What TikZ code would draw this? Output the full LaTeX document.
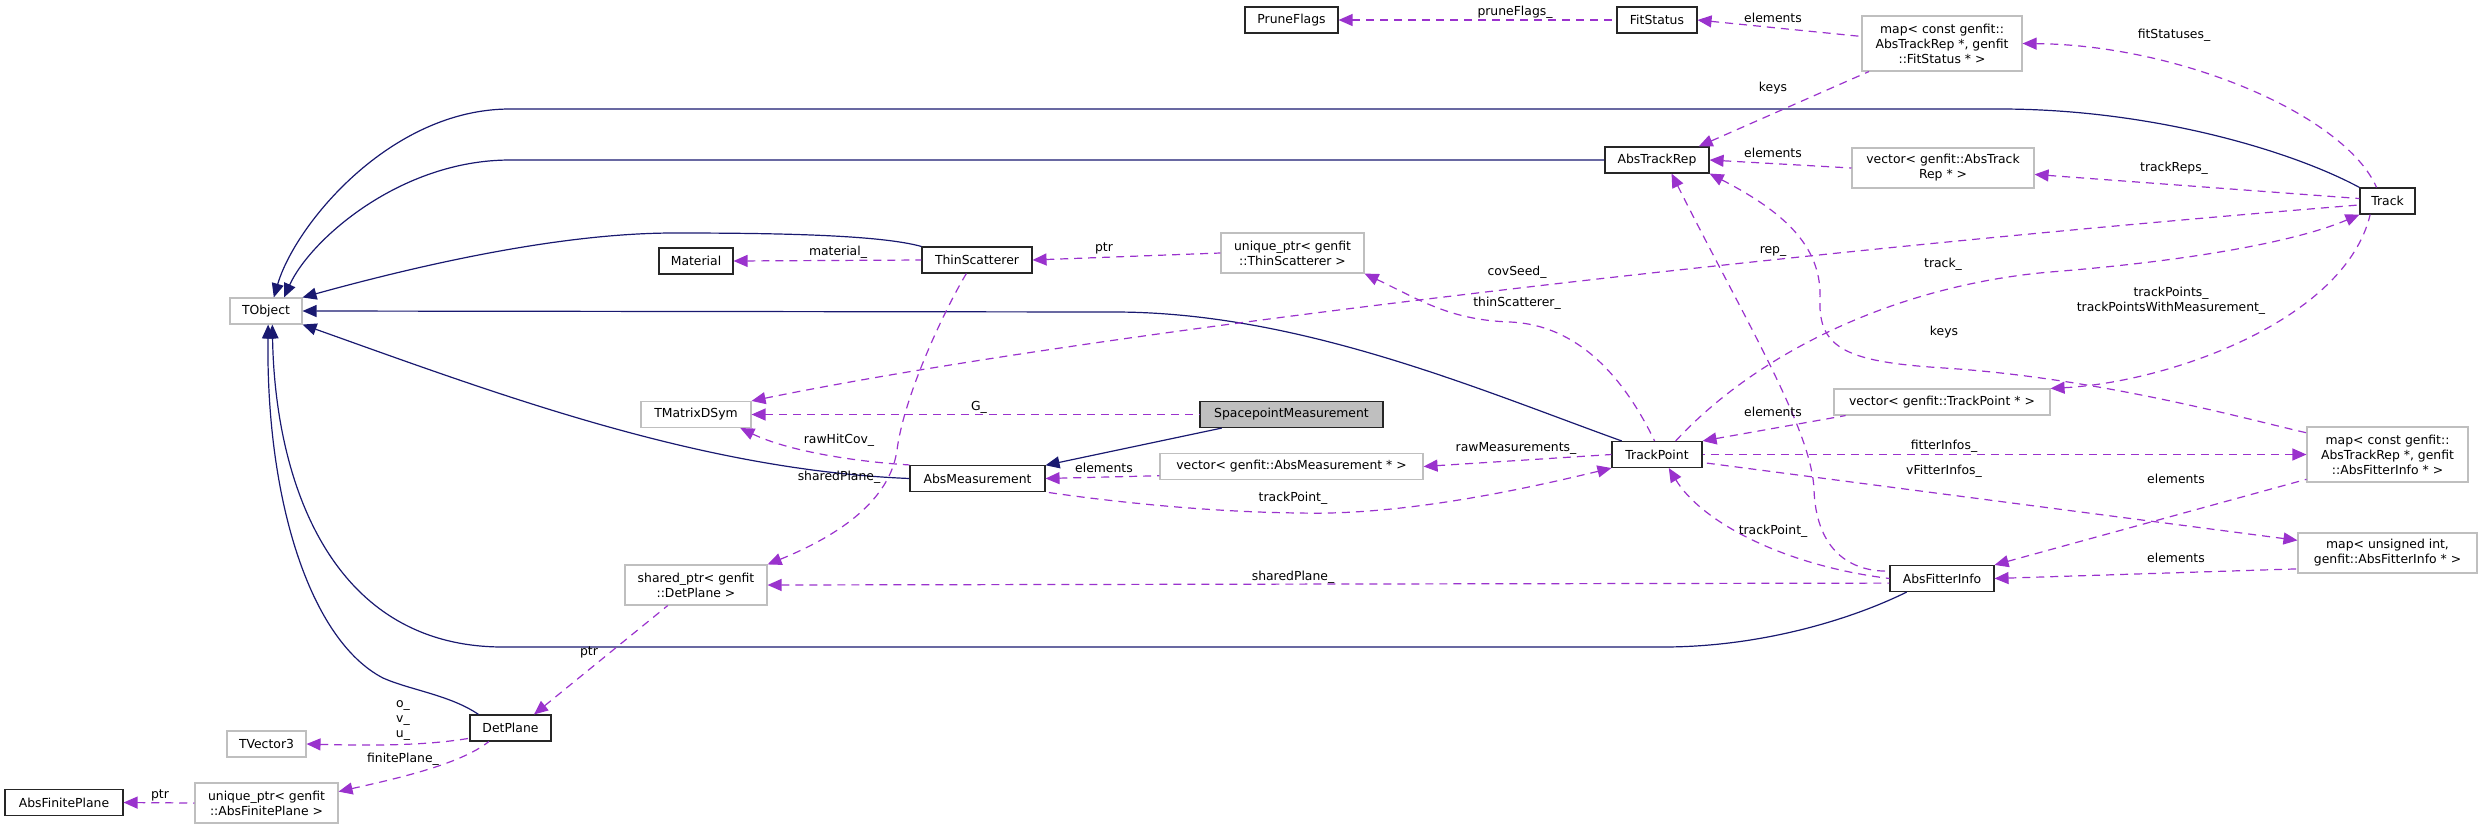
\documentclass[tikz,border=0pt]{standalone}
\usepackage{fontspec}
\setmainfont{DejaVu Sans}
\usetikzlibrary{arrows.meta, positioning, calc}

\definecolor{inhblue}{HTML}{191970}
\definecolor{usepurple}{HTML}{9A32CD}
\definecolor{extgray}{HTML}{BFBFBF}
\newcommand{\doxfont}{\fontsize{12.4}{15}\selectfont}

\tikzset{
  cls/.style={draw=black!85, line width=1.1pt, fill=white, font=\doxfont, minimum height=26pt, inner sep=2pt, align=center},
  ext/.style={cls, draw=extgray},
  inherit/.style={draw=inhblue, line width=1.2pt, {Triangle[length=14pt, width=12pt]}-},
  member/.style={draw=usepurple, line width=1.2pt, dash pattern=on 8pt off 6pt, {Triangle[length=14pt, width=12pt]}-},
  lbl/.style={font=\doxfont, inner sep=0pt, align=center},
}

\begin{document}
\begin{tikzpicture}[x=1pt, y=-1pt]
    \useasboundingbox (0,0) rectangle (2483,828);

    % classes
    \node[cls, minimum width=93pt] (PruneFlags) at (1291.5,20) {PruneFlags};
    \node[cls, minimum width=80pt] (FitStatus) at (1657,20) {FitStatus};
    \node[ext, minimum width=160pt, minimum height=55pt] (mapFS) at (1942,43.5) {map< const genfit::\\AbsTrackRep *, genfit\\::FitStatus * >};
    \node[cls, minimum width=104pt] (AbsTrackRep) at (1657,160) {AbsTrackRep};
    \node[ext, minimum width=182pt, minimum height=40pt] (vecATR) at (1943,168) {vector< genfit::AbsTrack\\Rep * >};
    \node[cls, minimum width=55pt] (Track) at (2387.5,201) {Track};
    \node[cls, minimum width=74pt] (Material) at (696,261) {Material};
    \node[cls, minimum width=110pt] (ThinScatterer) at (977,260) {ThinScatterer};
    \node[ext, minimum width=143pt, minimum height=40pt] (uptrTS) at (1292.5,253) {unique\_ptr< genfit\\::ThinScatterer >};
    \node[ext, minimum width=72pt] (TObject) at (266,311) {TObject};
    \node[ext, minimum width=110pt] (TMatrixDSym) at (696,414.5) {TMatrixDSym};
    \node[cls, fill=extgray, minimum width=183pt] (SpacepointMeasurement) at (1291.5,414.5) {SpacepointMeasurement};
    \node[ext, minimum width=216pt] (vecTP) at (1942,402) {vector< genfit::TrackPoint * >};
    \node[cls, minimum width=90pt] (TrackPoint) at (1657,454.5) {TrackPoint};
    \node[ext, minimum width=263pt] (vecAM) at (1291.5,466.5) {vector< genfit::AbsMeasurement * >};
    \node[cls, minimum width=135pt] (AbsMeasurement) at (977.5,478.5) {AbsMeasurement};
    \node[ext, minimum width=161pt, minimum height=55pt] (mapAFI) at (2387.5,454.5) {map< const genfit::\\AbsTrackRep *, genfit\\::AbsFitterInfo * >};
    \node[ext, minimum width=179pt, minimum height=40pt] (mapUI) at (2387.5,553) {map< unsigned int,\\ genfit::AbsFitterInfo * >};
    \node[cls, minimum width=104pt] (AbsFitterInfo) at (1942,578.5) {AbsFitterInfo};
    \node[ext, minimum width=142pt, minimum height=40pt] (sptrDP) at (696,585) {shared\_ptr< genfit\\::DetPlane >};
    \node[cls, minimum width=81pt] (DetPlane) at (510.5,728) {DetPlane};
    \node[ext, minimum width=79pt] (TVector3) at (266.5,744) {TVector3};
    \node[ext, minimum width=143pt, minimum height=40pt] (uptrAFP) at (266.5,803) {unique\_ptr< genfit\\::AbsFinitePlane >};
    \node[cls, minimum width=118pt] (AbsFinitePlane) at (64,802.5) {AbsFinitePlane};

    % inheritance
    \draw[inherit] (TObject.60) .. controls (295,225) and (390,109) .. (510,109) -- (2000,109) .. controls (2150,109) and (2290,150) .. (Track.north west);
    \draw[inherit] (TObject.37) .. controls (310,240) and (400,160) .. (510,160) -- (AbsTrackRep.west);
    \draw[inherit] (TObject.north east) .. controls (420,265) and (560,233) .. (674,233) .. controls (780,233) and (880,235) .. (ThinScatterer.north west);
    \draw[inherit] (TObject.east) -- (1114,312) .. controls (1300,312) and (1480,390) .. (TrackPoint.159);
    \draw[inherit] (TObject.south east) .. controls (500,395) and (700,470) .. (AbsMeasurement.west);
    \draw[inherit] (TObject.-65) .. controls (275,480) and (330,647) .. (503,647) -- (1663,647) .. controls (1760,647) and (1850,620) .. (AbsFitterInfo.-159);
    \draw[inherit] (TObject.-81) .. controls (266,500) and (310,640) .. (383,678) .. controls (410,690) and (450,695) .. (DetPlane.157);
    \draw[inherit] (AbsMeasurement.11) -- (SpacepointMeasurement.-169);

    % members
    \draw[member] (PruneFlags.east) -- (FitStatus.west);
    \draw[member] (FitStatus.east) -- (mapFS.175);
    \draw[member] (AbsTrackRep.18) -- (mapFS.-159);
    \draw[member] (mapFS.east) .. controls (2180,45) and (2345,115) .. (Track.129);
    \draw[member] (AbsTrackRep.east) -- (vecATR.west);
    \draw[member] (vecATR.-4) -- (Track.175);
    \draw[member] (TMatrixDSym.north east) .. controls (1100,330) and (1800,250) .. (Track.-172);
    \draw[member] (AbsTrackRep.-43) .. controls (1745,320) and (1812,430) .. (1814,490) .. controls (1816,545) and (1845,572) .. (AbsFitterInfo.172);
    \draw[member] (AbsTrackRep.south east) .. controls (1790,215) and (1822,250) .. (1820,300) .. controls (1818,350) and (1850,362) .. (1944,368) .. controls (2100,378) and (2250,420) .. (mapAFI.165);
    \draw[member] (Track.south west) .. controls (2300,240) and (2200,260) .. (2050,272) .. controls (1900,285) and (1760,350) .. (TrackPoint.36);
    \draw[member] (uptrTS.south east) .. controls (1420,300) and (1450,320) .. (1510,322) .. controls (1580,325) and (1625,380) .. (TrackPoint.100);
    \draw[member] (vecTP.north east) .. controls (2170,382) and (2345,320) .. (Track.-142);
    \draw[member] (TrackPoint.north east) -- (vecTP.-172);
    \draw[member] (mapAFI.west) -- (TrackPoint.east);
    \draw[member] (mapUI.172) -- (TrackPoint.-10);
    \draw[member] (AbsFitterInfo.north east) -- (mapAFI.-163);
    \draw[member] (AbsFitterInfo.east) -- (mapUI.-170);
    \draw[member] (TrackPoint.-49) .. controls (1700,520) and (1780,565) .. (AbsFitterInfo.west);
    \draw[member] (sptrDP.east) -- (AbsFitterInfo.-175);
    \draw[member] (sptrDP.north east) .. controls (840,535) and (890,500) .. (897,450) .. controls (905,390) and (950,300) .. (ThinScatterer.-128);
    \draw[member] (Material.east) -- (ThinScatterer.west);
    \draw[member] (ThinScatterer.east) -- (uptrTS.west);
    \draw[member] (vecAM.east) -- (TrackPoint.west);
    \draw[member] (AbsMeasurement.east) -- (vecAM.-176);
    \draw[member] (TrackPoint.south west) .. controls (1480,500) and (1380,515) .. (1300,513) .. controls (1200,512) and (1100,500) .. (AbsMeasurement.south east);
    \draw[member] (TMatrixDSym.-17) .. controls (790,452) and (860,462) .. (AbsMeasurement.north west);
    \draw[member] (TMatrixDSym.east) -- (SpacepointMeasurement.west);
    \draw[member] (DetPlane.30) -- (sptrDP.-144);
    \draw[member] (TVector3.east) .. controls (380,746) and (430,745) .. (DetPlane.-166);
    \draw[member] (uptrAFP.9) .. controls (390,780) and (460,765) .. (DetPlane.-148);
    \draw[member] (AbsFinitePlane.east) -- (uptrAFP.west);

    % labels
    \node[lbl] (lPruneFlags) at (1515,12) {pruneFlags\_};
    \node[lbl] (lElemFS) at (1773,18) {elements};
    \node[lbl] (lFitStatuses) at (2174,35) {fitStatuses\_};
    \node[lbl] (lKeysFS) at (1773,88) {keys};
    \node[lbl] (lElemATR) at (1773,153) {elements};
    \node[lbl] (lTrackReps) at (2174,168) {trackReps\_};
    \node[lbl] (lMaterial) at (838,252) {material\_};
    \node[lbl] (lPtrTS) at (1104,248) {ptr};
    \node[lbl] (lRep) at (1773,251) {rep\_};
    \node[lbl] (lTrack) at (1943,264) {track\_};
    \node[lbl] (lCovSeed) at (1517,272) {covSeed\_};
    \node[lbl] (lThinScatterer) at (1517,303) {thinScatterer\_};
    \node[lbl] (lTrackPoints) at (2171,301) {trackPoints\_\\trackPointsWithMeasurement\_};
    \node[lbl] (lKeysAFI) at (1944,332) {keys};
    \node[lbl] (lG) at (979,407) {G\_};
    \node[lbl] (lElemTP) at (1773,412) {elements};
    \node[lbl] (lRawHitCov) at (839,440) {rawHitCov\_};
    \node[lbl] (lFitterInfos) at (1944,446) {fitterInfos\_};
    \node[lbl] (lRawMeas) at (1516,448) {rawMeasurements\_};
    \node[lbl] (lElemAM) at (1104,468) {elements};
    \node[lbl] (lVFitterInfos) at (1944,471) {vFitterInfos\_};
    \node[lbl] (lSharedPlaneTS) at (839,477) {sharedPlane\_};
    \node[lbl] (lElemAFI) at (2176,479) {elements};
    \node[lbl] (lTrackPointAM) at (1293,498) {trackPoint\_};
    \node[lbl] (lTrackPointAFI) at (1773,531) {trackPoint\_};
    \node[lbl] (lElemUI) at (2176,558) {elements};
    \node[lbl] (lSharedPlaneAFI) at (1293,577) {sharedPlane\_};
    \node[lbl] (lPtrDP) at (589,652) {ptr};
    \node[lbl] (lOVU) at (403,720) {o\_\\v\_\\u\_};
    \node[lbl] (lFinitePlane) at (403,759) {finitePlane\_};
    \node[lbl] (lPtrAFP) at (160,795) {ptr};
\end{tikzpicture}
\end{document}
